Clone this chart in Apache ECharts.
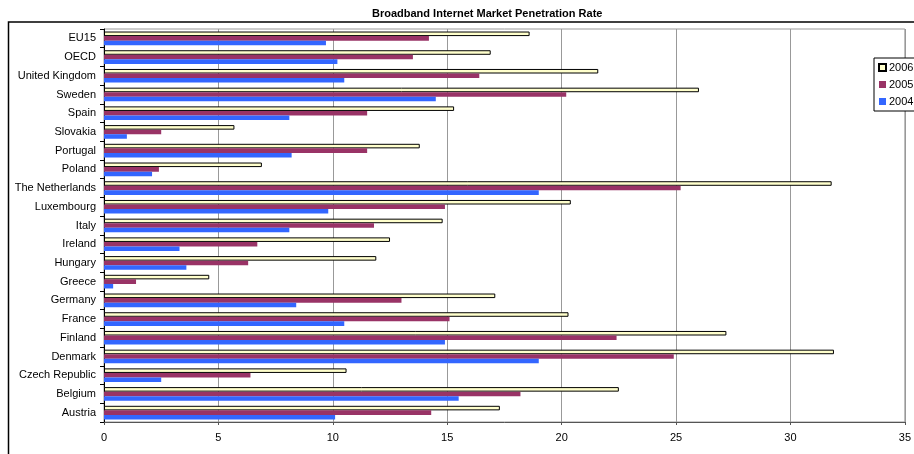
<!DOCTYPE html>
<html>
<head>
<meta charset="utf-8">
<script src="https://cdn.jsdelivr.net/npm/echarts@6/dist/echarts.min.js"></script>
<style>
html,body{margin:0;padding:0;background:#fff;}
#c{width:914px;height:454px;}
</style>
</head>
<body>
<div id="c"></div>
<script>
var categories = ["Austria","Belgium","Czech Republic","Denmark","Finland","France","Germany","Greece","Hungary","Ireland","Italy","Luxembourg","The Netherlands","Poland","Portugal","Slovakia","Spain","Sweden","United Kingdom","OECD","EU15"];
var values2004 = [10.1,15.5,2.5,19.0,14.9,10.5,8.4,0.4,3.6,3.3,8.1,9.8,19.0,2.1,8.2,1.0,8.1,14.5,10.5,10.2,9.7];
var values2005 = [14.3,18.2,6.4,24.9,22.4,15.1,13.0,1.4,6.3,6.7,11.8,14.9,25.2,2.4,11.5,2.5,11.5,20.2,16.4,13.5,14.2];
var values2006 = [17.3,22.5,10.6,31.9,27.2,20.3,17.1,4.6,11.9,12.5,14.8,20.4,31.8,6.9,13.8,5.7,15.3,26.0,21.6,16.9,18.6];
var xTicks = {min:0, max:35, interval:5};

var FONT = 'Liberation Sans, Arial, sans-serif';
var chart = echarts.init(document.getElementById('c'));
chart.setOption({
  backgroundColor:'#fff',
  animation:false,
  title:{
    text:'Broadband Internet Market Penetration Rate',
    left:367, top:3,
    textStyle:{fontFamily:FONT,fontSize:11,fontWeight:'bold',color:'#000'}
  },
  graphic:[{
    type:'rect', left:6, top:19.5, z:-1,
    shape:{x:0,y:0,width:1000,height:1000},
    style:{fill:'none',stroke:'#000',lineWidth:1.5}
  }],
  legend:{
    data:['2006','2005','2004'],
    orient:'vertical',
    icon:'rect',
    left:874, top:58,
    itemWidth:7, itemHeight:7, itemGap:6,
    padding:[4,6,4,4],
    borderColor:'#000', borderWidth:1,
    backgroundColor:'#fff',
    textStyle:{fontFamily:FONT,fontSize:11,color:'#000',padding:[0,0,0,-2]}
  },
  grid:{left:104,right:9,top:29,bottom:32,show:true,borderColor:'#999',borderWidth:1},
  xAxis:{
    type:'value', min:xTicks.min, max:xTicks.max, interval:xTicks.interval,
    axisLine:{show:true,lineStyle:{color:'#555',width:1}},
    axisTick:{show:true,length:3,lineStyle:{color:'#555'}},
    axisLabel:{fontFamily:FONT,fontSize:11,color:'#000',margin:10},
    splitLine:{show:true,lineStyle:{color:'#999',width:1}}
  },
  yAxis:{
    type:'category', data:categories,
    axisLine:{show:true,lineStyle:{color:'#000',width:1}},
    axisTick:{show:true,length:4,lineStyle:{color:'#000'}},
    axisLabel:{fontFamily:FONT,fontSize:11,color:'#000',margin:8},
    splitLine:{show:false}
  },
  series:[
    {name:'2006',type:'bar',data:values2006,barGap:'0%',barCategoryGap:'27%',
     itemStyle:{color:'#FFFFCC',borderColor:'#000',borderWidth:1}},
    {name:'2005',type:'bar',data:values2005,barGap:'0%',barCategoryGap:'27%',
     itemStyle:{color:'#993366'}},
    {name:'2004',type:'bar',data:values2004,barGap:'0%',barCategoryGap:'27%',
     itemStyle:{color:'#3366FF'}}
  ]
});
</script>
</body>
</html>
